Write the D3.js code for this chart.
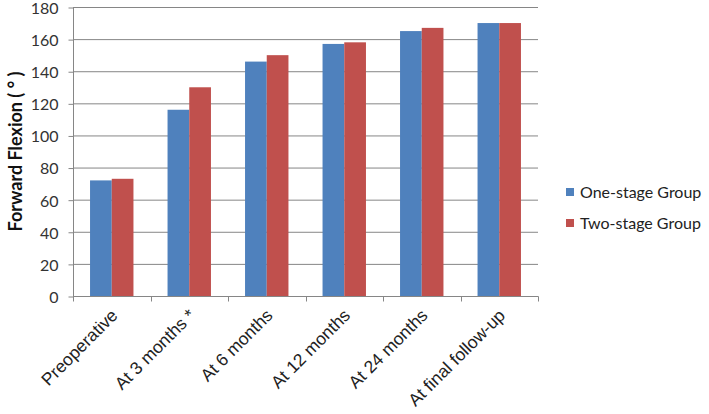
<!DOCTYPE html>
<html><head><meta charset="utf-8">
<script src="https://cdn.jsdelivr.net/npm/d3@7"></script>
<style>body{margin:0;background:#fff}svg{display:block}</style>
</head><body>
<svg id="c" width="709" height="414"></svg>
<script>
const categories = ["Preoperative","At 3 months *","At 6 months","At 12 months","At 24 months","At final follow-up"];
const seriesNames = ["One-stage Group","Two-stage Group"];
const oneStage = [72,116,146,157,165,170];
const twoStage = [73,130,150,158,167,170];
const yTicks = [0,20,40,60,80,100,120,140,160,180];
const colors = ["#4F81BD","#C0504D"];

const svg = d3.select("#c");
const m = {l:73, r:538, t:7, b:296};
const x = d3.scaleBand().domain(categories).range([m.l,m.r]).paddingInner(0).paddingOuter(0);
const x1 = d3.scaleBand().domain(seriesNames).range([0,x.bandwidth()]).paddingInner(0).paddingOuter(0.785);
const y = d3.scaleLinear().domain([0,180]).range([m.b,m.t]);
const grid="#868686";

// gridlines
svg.append("g").selectAll("line").data(yTicks.filter(d=>d>0)).join("line")
  .attr("x1",m.l).attr("x2",m.r).attr("y1",d=>y(d)+0.5).attr("y2",d=>y(d)+0.5)
  .attr("stroke",grid).attr("stroke-width",1);

// bars
const data = categories.map((c,i)=>({c, vals:[oneStage[i],twoStage[i]]}));
const g = svg.append("g").selectAll("g").data(data).join("g").attr("transform",d=>`translate(${x(d.c)},0)`);
g.selectAll("rect").data(d=>d.vals.map((v,j)=>({v,s:seriesNames[j],j}))).join("rect")
  .attr("x",d=>x1(d.s)).attr("width",x1.bandwidth())
  .attr("y",d=>y(d.v)).attr("height",d=>y(0)-y(d.v)).attr("fill",d=>colors[d.j]);

// y axis
const ya = svg.append("g").attr("transform",`translate(${m.l+0.5},0)`)
  .call(d3.axisLeft(y).tickValues(yTicks).tickSize(5).tickPadding(10));
ya.select(".domain").attr("stroke",grid).attr("d",`M0,${m.t}V${m.b}`);
ya.selectAll(".tick line").attr("stroke",grid).attr("transform","translate(0,0.5)");
ya.selectAll("text").attr("font-family","Lato, sans-serif").attr("font-size",16).attr("fill","#333").attr("dy","0.4em");

// x axis
const xa = svg.append("g").attr("transform",`translate(0,${m.b+0.5})`);
xa.append("line").attr("x1",m.l).attr("x2",m.r+0.5).attr("stroke",grid);
const bounds = d3.range(categories.length+1).map(i=>m.l + i*x.step());
xa.selectAll("line.t").data(bounds).join("line").attr("class","t")
  .attr("x1",d=>Math.round(d)+0.5).attr("x2",d=>Math.round(d)+0.5).attr("y1",0).attr("y2",5).attr("stroke",grid);
xa.selectAll("text").data(categories).join("text")
  .attr("transform",d=>`translate(${x(d)+x.bandwidth()/2+7},${20}) rotate(-45)`)
  .attr("text-anchor","end").attr("font-family","Liberation Sans, Arial, sans-serif")
  .attr("font-size",17.5).attr("fill","#222").text(d=>d);

// y title
svg.append("text").attr("transform",`translate(22,${(m.t+m.b)/2}) rotate(-90)`)
  .attr("text-anchor","middle").attr("font-family","Lato, sans-serif").attr("font-weight","bold")
  .attr("font-size",18).attr("fill","#111").text("Forward Flexion ( ° )");

// legend
const lg = svg.append("g").selectAll("g").data(seriesNames).join("g")
  .attr("transform",(d,i)=>`translate(566,${192+i*31})`);
lg.append("rect").attr("x",0).attr("y",-4).attr("width",8).attr("height",8).attr("fill",(d,i)=>colors[i]);
lg.append("text").attr("x",14).attr("y",5.5).attr("font-family","Lato, sans-serif").attr("font-size",16)
  .attr("fill","#222").text(d=>d);
</script>
</body></html>
